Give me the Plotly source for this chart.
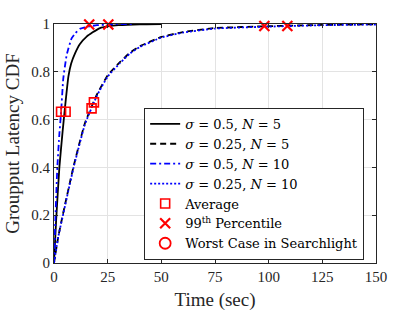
import plotly.graph_objects as go

# sigma=0.5, N=5 (black solid)
s05n5_x = [0, 1, 2.5, 4, 5, 6.7, 8, 9.8, 12, 15.2, 18, 21.4, 25, 30, 40, 50]
s05n5_y = [0, 0.18, 0.40, 0.55, 0.64, 0.78, 0.835, 0.877, 0.915, 0.947, 0.965, 0.983, 0.99, 0.995, 0.999, 1.0]
# sigma=0.25, N=5 (black dashed)
s025n5_x = [0, 2, 4.3, 9, 14.4, 20, 25, 30.7, 35.4, 40, 50, 60, 75, 100, 125, 150]
s025n5_y = [0, 0.11, 0.21, 0.40, 0.585, 0.705, 0.785, 0.84, 0.88, 0.907, 0.946, 0.966, 0.983, 0.991, 0.996, 0.999]
# sigma=0.5, N=10 (blue dash-dot)
s05n10_x = [0, 0.7, 1.55, 2.5, 3.3, 4.3, 5.9, 8.2, 10, 12.1, 16.4, 20, 28, 37]
s05n10_y = [0, 0.2, 0.40, 0.54, 0.63, 0.77, 0.87, 0.94, 0.962, 0.98, 0.99, 0.995, 0.999, 1.0]
# sigma=0.25, N=10 (blue dotted)
s025n10_x = [0, 2, 4.3, 9, 14.4, 20, 25, 30.7, 35.4, 40, 50, 60, 75, 100, 125, 150]
s025n10_y = [0, 0.11, 0.205, 0.395, 0.58, 0.70, 0.78, 0.836, 0.877, 0.904, 0.943, 0.964, 0.981, 0.989, 0.995, 0.998]

avg_x = [3.3, 5.4, 17.5, 18.6]
avg_y = [0.633, 0.633, 0.647, 0.672]
p99_x = [16.4, 25.3, 98, 108.7]
p99_y = [0.998, 0.998, 0.992, 0.992]
worst_x = [125]
worst_y = [1.003]

x_ticks = [0, 25, 50, 75, 100, 125, 150]
y_ticks = [0, 0.2, 0.4, 0.6, 0.8, 1]
y_tick_labels = ["0", "0.2", "0.4", "0.6", "0.8", "1"]

FONT = "Liberation Serif"
LFONT = "DejaVu Serif"
fig = go.Figure()
lw = 1.8
sm = 0.4
fig.add_trace(go.Scatter(x=s05n5_x, y=s05n5_y, mode="lines", name="<i>σ</i> = 0.5, <i>N</i> = 5",
                         line=dict(color="black", width=lw, shape="spline", smoothing=sm)))
fig.add_trace(go.Scatter(x=s025n5_x, y=s025n5_y, mode="lines", name="<i>σ</i> = 0.25, <i>N</i> = 5",
                         line=dict(color="black", width=lw, dash="6px,4px", shape="spline", smoothing=sm)))
fig.add_trace(go.Scatter(x=s05n10_x, y=s05n10_y, mode="lines", name="<i>σ</i> = 0.5, <i>N</i> = 10",
                         line=dict(color="blue", width=lw, dash="6px,3px,2px,3px", shape="spline", smoothing=sm)))
fig.add_trace(go.Scatter(x=s025n10_x, y=s025n10_y, mode="lines", name="<i>σ</i> = 0.25, <i>N</i> = 10",
                         line=dict(color="blue", width=lw, dash="2px,2px", shape="spline", smoothing=sm)))
fig.add_trace(go.Scatter(x=avg_x, y=avg_y, mode="markers", name="Average", cliponaxis=False,
                         marker=dict(symbol="square-open", size=9, color="red", line=dict(width=1.6, color="red"))))
fig.add_trace(go.Scatter(x=p99_x, y=p99_y, mode="markers", name="99<sup>th</sup> Percentile", cliponaxis=False,
                         marker=dict(symbol="x-thin-open", size=10, color="red", line=dict(width=2.2, color="red"))))
fig.add_trace(go.Scatter(x=worst_x, y=worst_y, mode="markers", name="Worst Case in Searchlight", cliponaxis=False,
                         marker=dict(symbol="circle-open", size=11, color="red", line=dict(width=1.8, color="red"))))

axis_common = dict(showgrid=True, gridcolor="#e3e3e3", gridwidth=1, zeroline=False,
                   showline=True, linecolor="#262626", linewidth=1, mirror="ticks",
                   ticks="inside", ticklen=4, tickcolor="#262626", automargin=False,
                   tickfont=dict(family=FONT, size=15, color="#262626"))
fig.update_xaxes(range=[0, 150], tickvals=x_ticks,
                 title=dict(text="Time (sec)", font=dict(family=FONT, size=19, color="#262626"), standoff=8), **axis_common)
fig.update_yaxes(range=[0, 1], tickvals=y_ticks, ticktext=y_tick_labels,
                 title=dict(text="Groupput Latency CDF", font=dict(family=FONT, size=19, color="#262626"), standoff=6), **axis_common)

fig.update_layout(
    width=415, height=312,
    margin=dict(l=54, r=39, t=24, b=49),
    plot_bgcolor="white", paper_bgcolor="white",
    font=dict(family=FONT, color="#262626"),
    legend=dict(x=0.28, y=0.649, xanchor="left", yanchor="top",
                bgcolor="white", bordercolor="#262626", borderwidth=1,
                font=dict(family=LFONT, size=13, color="black"),
                tracegroupgap=0, itemwidth=30),
    showlegend=True,
)
fig.write_html("out.html", config={"displayModeBar": False},
               post_script="document.body.style.margin='0';document.body.style.overflow='hidden';")
